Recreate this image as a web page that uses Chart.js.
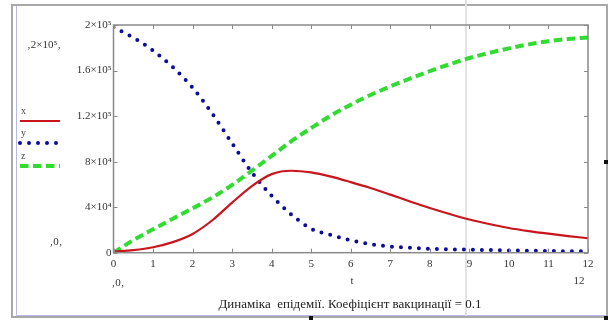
<!DOCTYPE html>
<html>
<head>
<meta charset="utf-8">
<script src="https://cdn.jsdelivr.net/npm/chart.js@4/dist/chart.umd.min.js"></script>
<style>
html,body{margin:0;padding:0;background:#fff;}
canvas{display:block;}
</style>
</head>
<body>
<canvas id="c" width="610" height="322"></canvas>
<script>
// ---- data ----
const tValues = [0,0.5,1,1.5,2,2.5,3,3.5,4,4.5,5,5.5,6,6.5,7,7.5,8,8.5,9,9.5,10,10.5,11,11.5,12];
const xSeries = [1000,2300,4800,9300,16500,28500,44000,58500,69000,72000,70500,66800,62000,56800,51000,45000,39300,34000,29200,25200,21700,19000,16700,14600,12700];
const ySeries = [198000,189000,177500,163000,145000,122000,96000,70500,50000,33500,21000,15500,11000,7500,5400,4300,3500,3000,2600,2300,2000,1700,1500,1300,1100];
const zSeries = [0,11000,20500,29800,39000,48500,59500,72000,85000,98000,109500,120500,130000,138500,146000,153000,159500,165500,171000,175500,179500,183000,185800,187700,189000];
const xTicks = [0,1,2,3,4,5,6,7,8,9,10,11,12];
const yTicks = [0,40000,80000,120000,160000,200000];
const yTickLabels = ['0','4×10⁴','8×10⁴','1.2×10⁵','1.6×10⁵','2×10⁵'];
const seriesNames = ['x','y','z'];
const titleText = 'Динаміка  епідемії. Коефіцієнт вакцинації = 0.1';

const toPts = arr => arr.map((v,i)=>({x:tValues[i], y:v}));
const RED='#c8161c', BLUE='#0c0c9a', GREEN='#2fdc2f', FRAME='#8a8a8a';
const SERIF='"Liberation Serif","DejaVu Serif",serif';

const decor = {
  id:'decor',
  beforeDraw(chart){
    const c=chart.ctx;
    c.save();
    c.fillStyle='#fff'; c.fillRect(0,0,chart.width,chart.height);
    // outer frame
    c.strokeStyle='#a8a8a8'; c.lineWidth=2;
    c.strokeRect(12,5,595,312);
    c.strokeStyle='#b8b8e0'; c.lineWidth=1;
    c.beginPath(); c.moveTo(16.5,6); c.lineTo(16.5,315.5); c.lineTo(606,315.5); c.stroke();
    // cursor line
    c.strokeStyle='#e2e2e2'; c.lineWidth=2;
    c.beginPath(); c.moveTo(466,0); c.lineTo(466,316); c.stroke();
    // small handles
    c.fillStyle='#111';
    c.fillRect(604,160,4,4); c.fillRect(309,316,4,4); c.fillRect(604,316,4,4);
    c.restore();
  },
  afterDraw(chart){
    const c=chart.ctx, a=chart.chartArea;
    const xs=chart.scales.x, ys=chart.scales.y;
    c.save();
    c.strokeStyle=FRAME; c.lineWidth=1.5;
    c.strokeRect(a.left,a.top,a.right-a.left,a.bottom-a.top);
    c.lineWidth=1;
    c.beginPath();
    xTicks.forEach(v=>{const p=Math.round(xs.getPixelForValue(v))+0.5;
      c.moveTo(p,a.bottom); c.lineTo(p,a.bottom-4);
      c.moveTo(p,a.top); c.lineTo(p,a.top+4);});
    yTicks.forEach(v=>{const p=Math.round(ys.getPixelForValue(v))+0.5;
      c.moveTo(a.left,p); c.lineTo(a.left+4,p);
      c.moveTo(a.right,p); c.lineTo(a.right-4,p);});
    c.stroke();
    // legend
    c.fillStyle='#444'; c.font='10px '+SERIF; c.textBaseline='middle'; c.textAlign='left';
    const ds=chart.data.datasets;
    const rows=[111,133,156];
    rows.forEach((ry,i)=>{
      c.fillText(seriesNames[i],21,ry);
      const d=ds[i];
      c.strokeStyle=d.borderColor; c.lineWidth=d.borderWidth;
      c.setLineDash(d.borderDash||[]); c.lineCap=d.borderCapStyle||'butt';
      c.beginPath(); c.moveTo(20,ry+10); c.lineTo(60,ry+10); c.stroke();
    });
    c.setLineDash([]); c.lineCap='butt';
    // other texts
    c.fillStyle='#333'; c.font='11px '+SERIF; c.textAlign='center';
    c.fillText('‚2×10⁵‚',44,45);
    c.fillText('‚0‚',56,242);
    c.fillText('‚0‚',118,283);
    c.fillText('t',352,281);
    c.fillText('12',579,281);
    c.fillStyle='#222'; c.font='13px '+SERIF;
    c.fillText(titleText,350,305);
    c.restore();
  }
};

new Chart(document.getElementById('c'),{
  type:'line',
  data:{datasets:[
    {label:seriesNames[0],data:toPts(xSeries),borderColor:RED,borderWidth:2.2,pointRadius:0,cubicInterpolationMode:'monotone',fill:false},
    {label:seriesNames[1],data:toPts(ySeries),borderColor:BLUE,borderWidth:4,borderDash:[0,9],borderCapStyle:'round',pointRadius:0,cubicInterpolationMode:'monotone',fill:false},
    {label:seriesNames[2],data:toPts(zSeries),borderColor:GREEN,borderWidth:4,borderDash:[8.5,4.5],pointRadius:0,cubicInterpolationMode:'monotone',fill:false}
  ]},
  options:{
    responsive:false, animation:false, devicePixelRatio:1,
    layout:{padding:{left:53.5,right:22,top:25,bottom:39.3}},
    plugins:{legend:{display:false},tooltip:{enabled:false},title:{display:false}},
    scales:{
      x:{type:'linear',min:0,max:12,
        afterFit(s){s.height=30;},
        afterBuildTicks(s){s.ticks=xTicks.map(v=>({value:v}));},
        grid:{display:false,drawTicks:false},border:{display:false},
        ticks:{padding:5,color:'#333',font:{family:SERIF,size:11},maxRotation:0,autoSkip:false}},
      y:{type:'linear',min:0,max:200000,
        afterFit(s){s.width=60;},
        afterBuildTicks(s){s.ticks=yTicks.map(v=>({value:v}));},
        grid:{display:false,drawTicks:false},border:{display:false},
        ticks:{padding:2,color:'#333',font:{family:SERIF,size:11},autoSkip:false,
          callback:(v)=>{const i=yTicks.indexOf(v);return i>=0?yTickLabels[i]:'';}}}
    }
  },
  plugins:[decor]
});
</script>
</body>
</html>
